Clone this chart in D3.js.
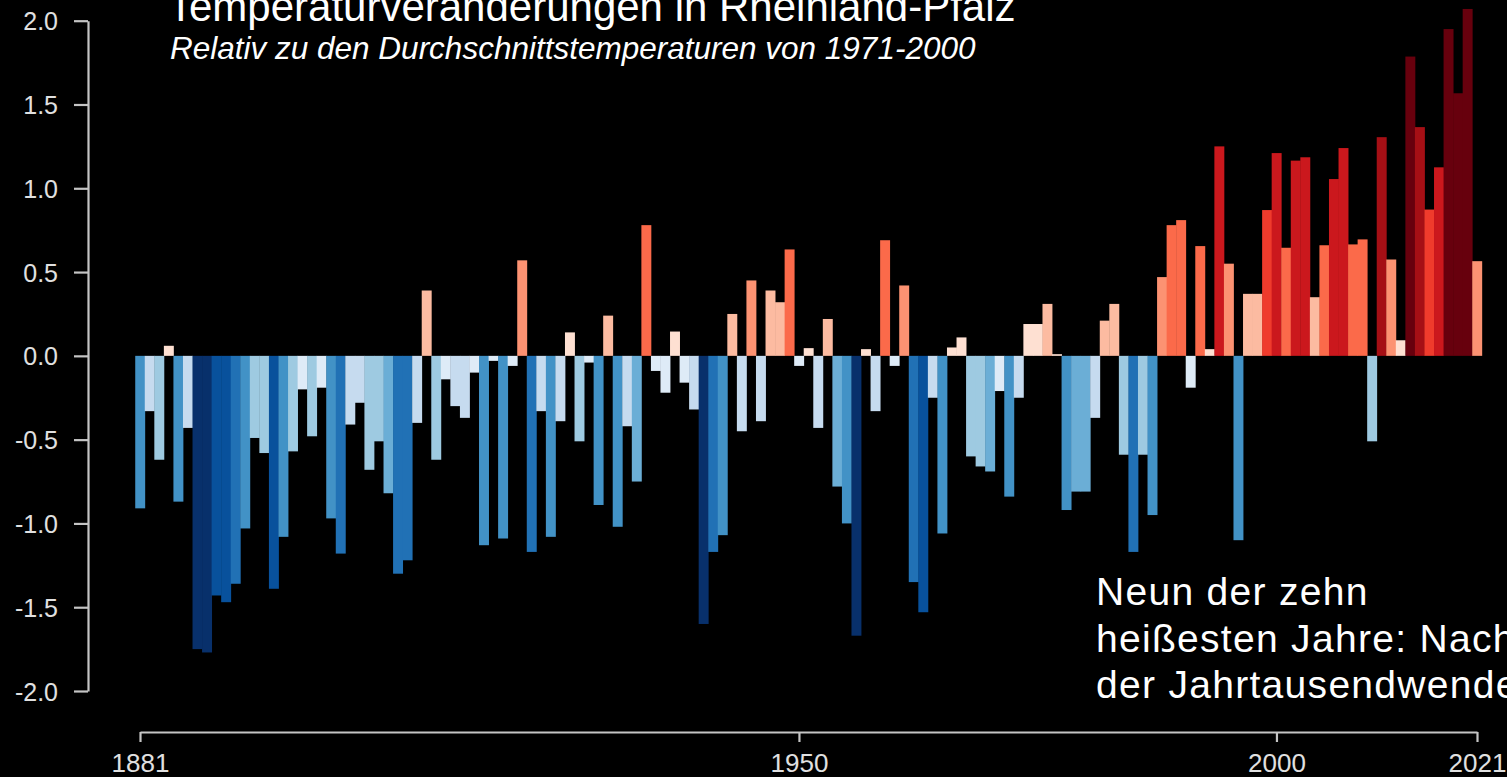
<!DOCTYPE html>
<html>
<head>
    <title>Temperaturveränderungen in Rheinland-Pfalz</title>
    <meta charset="utf-8" />
    <style>
        body {
            margin: 0;
            background-color: #000;
            overflow: hidden;
        }
        svg {
            display: block;
            background: #000;
        }
        .axis-label {
            fill: #e6e6e6;
            font-family: "Liberation Sans", Arial, sans-serif;
        }
    </style>
    <script src="https://cdnjs.cloudflare.com/ajax/libs/d3/7.8.5/d3.min.js"></script>
</head>
<body>
    <div id="graph"></div>
</body>
</html>
<script>

    // Jahre 1881 - 2021
    var years = d3.range(1881, 2022);

    // Abweichung in °C relativ zu 1971-2000
    var anomalies = [
        -0.91, -0.33, -0.62, 0.06, -0.87, -0.43, -1.75, -1.77, -1.43, -1.47,
        -1.36, -1.03, -0.49, -0.58, -1.39, -1.08, -0.57, -0.20, -0.48, -0.19,
        -0.97, -1.18, -0.41, -0.28, -0.68, -0.51, -0.82, -1.30, -1.22, -0.40,
        0.39, -0.62, -0.14, -0.30, -0.37, -0.10, -1.13, -0.03, -1.09, -0.06,
        0.57, -1.17, -0.33, -1.08, -0.39, 0.14, -0.51, -0.04, -0.89, 0.24,
        -1.02, -0.42, -0.75, 0.78, -0.09, -0.22, 0.145, -0.16, -0.32, -1.60,
        -1.17, -1.07, 0.25, -0.45, 0.45, -0.39, 0.39, 0.32, 0.635, -0.06,
        0.046, -0.43, 0.22, -0.78, -1.00, -1.67, 0.04, -0.33, 0.69, -0.06,
        0.42, -1.35, -1.53, -0.25, -1.06, 0.05, 0.11, -0.60, -0.66, -0.69,
        -0.21, -0.84, -0.25, 0.19, 0.19, 0.31, 0.01, -0.92, -0.81, -0.81,
        -0.37, 0.21, 0.31, -0.59, -1.17, -0.59, -0.95, 0.47, 0.78, 0.81,
        -0.19, 0.655, 0.04, 1.25, 0.55, -1.10, 0.37, 0.37, 0.87, 1.21,
        0.645, 1.165, 1.185, 0.35, 0.66, 1.055, 1.24, 0.665, 0.695, -0.51,
        1.305, 0.575, 0.093, 1.786, 1.365, 0.873, 1.125, 1.95, 1.567, 2.07,
        0.565
    ];

    var yTicks = [2.0, 1.5, 1.0, 0.5, 0.0, -0.5, -1.0, -1.5, -2.0];
    var xTicks = [1881, 1950, 2000, 2021];

    var title = "Temperaturveränderungen in Rheinland-Pfalz";
    var subtitle = "Relativ zu den Durchschnittstemperaturen von 1971-2000";
    var note = ["Neun der zehn", "heißesten Jahre: Nach", "der Jahrtausendwende"];

    // Farbstufen wie bei den "warming stripes"
    var colorSteps = [-1.59, -1.365, -1.1375, -0.835, -0.6825, -0.455, -0.2275, 0,
                      0.2, 0.4, 0.6, 0.85, 1.0, 1.28, 1.5];
    var colorRange = ["#08306b", "#08519c", "#2171b5", "#4292c6", "#6baed6", "#9ecae1", "#c6dbef", "#deebf7",
                      "#fee0d2", "#fcbba1", "#fc9272", "#fb6a4a", "#ef3b2c", "#cb181d", "#a50f15", "#67000d"];

    var dataset = years.map(function (y, i) {
        return { year: y, value: anomalies[i] };
    });

    var w = 1507,
        h = 777;

    var xScale = d3.scaleLinear()
        .domain([1881, 2021])
        .range([140, 1477]);

    var yScale = d3.scaleLinear()
        .domain([-2, 2])
        .range([691, 20.7]);

    var color = d3.scaleThreshold()
        .domain(colorSteps)
        .range(colorRange);

    var barW = xScale(1882) - xScale(1881);

    var svg = d3.select("#graph")
        .append("svg")
        .attr("width", w)
        .attr("height", h);

    // Balken
    svg.append("g")
        .selectAll("rect")
        .data(dataset)
        .enter().append("rect")
        .attr("x", function (d) { return xScale(d.year) - barW / 2; })
        .attr("width", barW + 0.4)
        .attr("y", function (d) { return yScale(Math.max(0, d.value)); })
        .attr("height", function (d) { return Math.abs(yScale(d.value) - yScale(0)); })
        .style("fill", function (d) { return color(d.value); });

    // y-Achse (mit normalem Bindestrich als Minus)
    var fmt = d3.format(".1f");
    var yAxis = d3.axisLeft(yScale)
        .tickValues(yTicks)
        .tickFormat(function (d) { return fmt(d).replace("\u2212", "-"); })
        .tickSize(14)
        .tickPadding(16)
        .tickSizeOuter(0);

    var gy = svg.append("g")
        .attr("transform", "translate(88,0)")
        .call(yAxis);

    // x-Achse
    var xAxis = d3.axisBottom(xScale)
        .tickValues(xTicks)
        .tickFormat(d3.format("d"))
        .tickSize(10)
        .tickPadding(12)
        .tickSizeOuter(0);

    var gx = svg.append("g")
        .attr("transform", "translate(0,732)")
        .call(xAxis);

    [gy, gx].forEach(function (g) {
        g.select(".domain").attr("stroke", "#c4c4c4").attr("stroke-width", 2.2);
        g.selectAll(".tick line").attr("stroke", "#c4c4c4").attr("stroke-width", 2.2);
        g.selectAll(".tick text")
            .attr("class", "axis-label")
            .style("font-size", "25px")
            .style("fill", "#e0e0e0");
    });
    gy.selectAll(".tick text").attr("dy", "0.36em");
    gx.selectAll(".tick text").style("font-size", "26px");

    // Titel
    svg.append("text")
        .attr("x", 168)
        .attr("y", 21)
        .text(title)
        .style("font-family", "'Liberation Sans', Arial, sans-serif")
        .style("font-size", "42px")
        .style("fill", "#ffffff");

    svg.append("text")
        .attr("x", 170)
        .attr("y", 59)
        .text(subtitle)
        .style("font-family", "'Liberation Sans', Arial, sans-serif")
        .style("font-style", "italic")
        .style("font-size", "31.5px")
        .style("fill", "#ffffff");

    // Hinweis unten rechts
    svg.append("g")
        .selectAll("text")
        .data(note)
        .enter().append("text")
        .attr("x", 1096)
        .attr("y", function (d, i) { return 605 + i * 46.5; })
        .text(function (d) { return d; })
        .style("font-family", "'Liberation Sans', Arial, sans-serif")
        .style("font-size", "39px")
        .style("letter-spacing", "1.3px")
        .style("fill", "#ffffff");

</script>
